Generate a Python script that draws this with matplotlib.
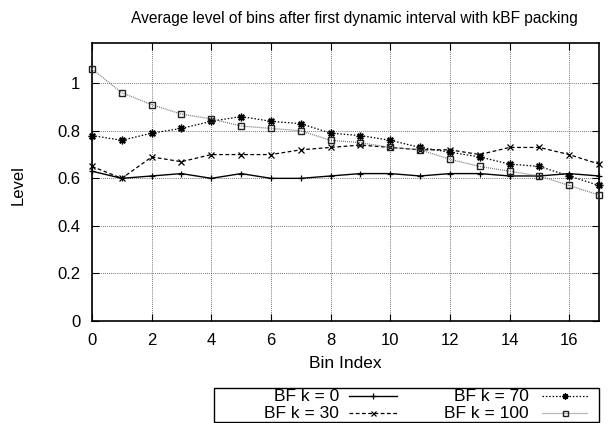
import matplotlib
matplotlib.use("Agg")
import matplotlib.pyplot as plt
from matplotlib.lines import Line2D
from matplotlib.patches import Rectangle

plt.rcParams['font.family'] = ['Liberation Sans', 'DejaVu Sans']

bins = list(range(18))
k0 = [0.63, 0.60, 0.61, 0.62, 0.60, 0.62, 0.60, 0.60, 0.61, 0.62, 0.62, 0.61, 0.62, 0.62, 0.61, 0.61, 0.62, 0.61]
k30 = [0.65, 0.60, 0.69, 0.67, 0.70, 0.70, 0.70, 0.72, 0.73, 0.74, 0.73, 0.72, 0.72, 0.70, 0.73, 0.73, 0.70, 0.66]
k70 = [0.78, 0.76, 0.79, 0.81, 0.84, 0.86, 0.84, 0.83, 0.79, 0.78, 0.76, 0.73, 0.71, 0.69, 0.66, 0.65, 0.61, 0.57]
k100 = [1.06, 0.96, 0.91, 0.87, 0.85, 0.82, 0.81, 0.80, 0.76, 0.75, 0.73, 0.72, 0.68, 0.65, 0.63, 0.61, 0.57, 0.53]
labels = ["BF k = 0", "BF k = 30", "BF k = 70", "BF k = 100"]
xticks = list(range(0, 17, 2))
yticks = [0, 0.2, 0.4, 0.6, 0.8, 1]
ytick_labels = ["0", "0.2", "0.4", "0.6", "0.8", "1"]

W, H = 615, 423
fig = plt.figure(figsize=(W / 100, H / 100), dpi=100)

def fx(px):
    return px / W

def fy(py):
    return 1 - py / H

ax = fig.add_axes([fx(92), fy(321), fx(599) - fx(92), fy(43.3) - fy(321)])

asterisk = (8, 2, 0)
styles = [
    dict(color='black', linestyle='-', linewidth=1.0, marker='+', markersize=5, markeredgewidth=0.9),
    dict(color='black', linestyle=(0, (3, 2)), linewidth=0.9, marker='x', markersize=4.5, markeredgewidth=0.9),
    dict(color='black', linestyle=(0, (1.2, 1.5)), linewidth=0.9, marker=asterisk, markersize=5.5, markeredgewidth=1.0),
    dict(color='#777777', linestyle=(0, (0.8, 0.8)), linewidth=0.9, marker='s', markersize=4.5,
         markerfacecolor='none', markeredgecolor='#222222', markeredgewidth=1.0),
]
series = [k0, k30, k70, k100]
for ys, st in zip(series, styles):
    ax.plot(bins, ys, clip_on=False, zorder=3, **st)

ax.set_xlim(0, 17)
ax.set_ylim(0, 1.168)
ax.set_xticks(xticks)
ax.set_yticks(yticks)
ax.set_yticklabels(ytick_labels)
ax.tick_params(direction='in', top=True, right=True, length=5, width=0.8, labelsize=12, pad=8.5)
ax.grid(True, color='#444444', linestyle=(0, (1, 1.5)), linewidth=0.6)
for s in ax.spines.values():
    s.set_linewidth(1.2)

fig.text(fx(354), fy(18.5), "Average level of bins after first dynamic interval with kBF packing",
         ha='center', va='center', fontsize=11.2)
fig.text(fx(18), fy(185), "Level", ha='center', va='center', rotation=90, fontsize=12)
fig.text(fx(345), fy(363), "Bin Index", ha='center', va='center', fontsize=12.5)

# legend box (drawn in figure pixel coordinates)
fig.add_artist(Rectangle((fx(214), fy(422)), fx(599) - fx(214), fy(388.3) - fy(422),
                         transform=fig.transFigure, fill=False, edgecolor='black', linewidth=1.0))
cols = [(339, 349, 397), (529, 542, 588)]
rows = [396, 413]
pos = [(0, 0), (0, 1), (1, 0), (1, 1)]
for (c, r), lab, st in zip(pos, labels, styles):
    tx, l0, l1 = cols[c]
    yy = rows[r]
    fig.text(fx(tx), fy(yy), lab, ha='right', va='center', fontsize=12.5)
    st2 = dict(st)
    st2['marker'] = 'None'
    fig.add_artist(Line2D([fx(l0), fx(l1)], [fy(yy), fy(yy)], transform=fig.transFigure, **st2))
    st3 = dict(st)
    st3['linestyle'] = 'None'
    st3['markersize'] = st['markersize'] * 0.8
    fig.add_artist(Line2D([fx((l0 + l1) / 2)], [fy(yy)], transform=fig.transFigure, **st3))

fig.savefig("out.png", dpi=100)
